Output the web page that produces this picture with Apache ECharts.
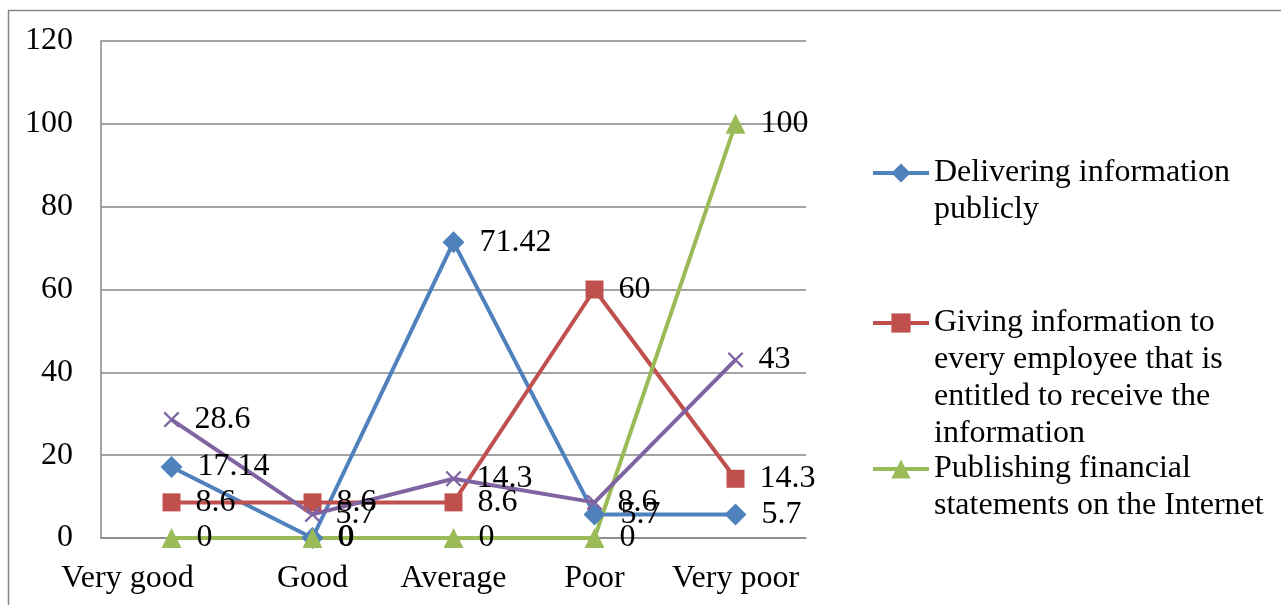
<!DOCTYPE html>
<html>
<head>
<meta charset="utf-8">
<script src="https://cdn.jsdelivr.net/npm/echarts@6/dist/echarts.min.js"></script>
<style>
html,body{margin:0;padding:0;background:#fff;}
#c{width:1281px;height:605px;}
</style>
</head>
<body>
<div id="c"></div>
<script>
const categories = ['Very good', 'Good', 'Average', 'Poor', 'Very poor'];
const delivering = [17.14, 0, 71.42, 5.7, 5.7];
const giving = [8.6, 8.6, 8.6, 60, 14.3];
const publishing = [0, 0, 0, 0, 100];
const fourth = [28.6, 5.7, 14.3, 8.6, 43];
const yTicks = {min: 0, max: 120, interval: 20};

const names = [
  'Delivering information\npublicly',
  'Giving information to\nevery employee that is\nentitled to receive the\ninformation',
  'Publishing financial\nstatements on the Internet',
  'Fourth item'
];

const FONT = '"Liberation Serif", "Times New Roman", serif';
const FS = 32;
const crossPath = 'path://M0,1L1,0L5,4L9,0L10,1L6,5L10,9L9,10L5,6L1,10L0,9L4,5Z';

function mk(name, data, color, symbol, size) {
  return {
    name: name, type: 'line', data: data,
    symbol: symbol, symbolSize: size,
    lineStyle: {color: color, width: 4},
    itemStyle: {color: color},
    label: {show: true, position: 'right', distance: 15, color: '#000',
            fontSize: FS, fontFamily: FONT},
    z: 2
  };
}

const LH = 37;
function legendFor(i, iconY, lines) {
  return {
    data: [names[i]], orient: 'vertical', left: 871,
    top: iconY + 3 - (2 * lines - 1) * LH / 2,
    padding: 0, itemWidth: 56, itemHeight: 24, itemGap: 0,
    lineStyle: {width: 4},
    formatter: function (n) { return '\n'.repeat(lines - 1) + n; },
    textStyle: {fontSize: FS, fontFamily: FONT, color: '#000', lineHeight: LH}
  };
}

// first category label sits further left in the original
const catData = categories.map(function (c, i) {
  return i === 0 ? {value: c, textStyle: {padding: [0, 88, 0, 0]}} : c;
});

const chart = echarts.init(document.getElementById('c'));
chart.setOption({
  animation: false,
  backgroundColor: '#fff',
  graphic: [{
    type: 'rect', shape: {x: 8.5, y: 10.5, width: 1400, height: 800},
    style: {fill: 'none', stroke: '#868686', lineWidth: 1.5}, silent: true
  }],
  legend: [
    legendFor(0, 170, 2),
    legendFor(1, 320, 4),
    legendFor(2, 466, 2)
  ],
  grid: {left: 101, right: 475, top: 41, bottom: 67},
  xAxis: {
    type: 'category', data: catData, boundaryGap: true,
    axisLine: {lineStyle: {color: '#868686', width: 1.5}},
    axisTick: {show: false},
    axisLabel: {color: '#000', fontSize: FS, fontFamily: FONT, margin: 25, interval: 0}
  },
  yAxis: {
    type: 'value', min: yTicks.min, max: yTicks.max, interval: yTicks.interval,
    axisLine: {show: true, lineStyle: {color: '#868686', width: 1.5}},
    axisTick: {show: false},
    splitLine: {lineStyle: {color: '#868686', width: 1.5}},
    axisLabel: {color: '#000', fontSize: FS, fontFamily: FONT, margin: 28}
  },
  series: [
    mk(names[0], delivering, '#4F81BD', 'diamond', 22),
    mk(names[1], giving, '#C0504D', 'rect', 18),
    mk(names[2], publishing, '#9BBB59', 'triangle', 20),
    mk(names[3], fourth, '#8064A2', crossPath, 16)
  ]
});
</script>
</body>
</html>
